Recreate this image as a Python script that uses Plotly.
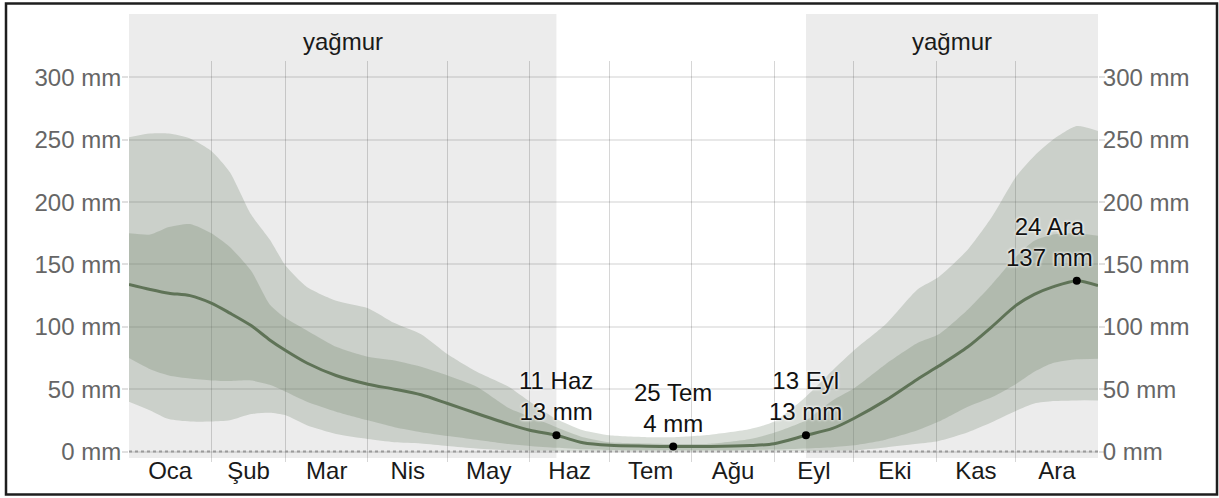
import plotly.graph_objects as go

# ---------------- data ----------------
month_names = ["Oca", "Şub", "Mar", "Nis", "May", "Haz", "Tem", "Ağu", "Eyl", "Eki", "Kas", "Ara"]
month_starts = [0, 31, 59, 90, 120, 151, 181, 212, 243, 273, 304, 334, 365]

days = [0, 8, 15, 23, 31, 38, 46, 53, 59, 67, 78, 90, 100, 110, 120, 131, 143, 151, 161,
        171, 181, 195, 205, 219, 234, 243, 255, 265, 273, 285, 297, 305, 316, 325, 334,
        341, 348, 357, 365]
mean_mm = [134, 130, 127, 125, 119, 111, 101, 89.5, 81, 71, 61, 54, 50, 45.5, 38.5, 30.5, 22, 17, 13,
           7, 5, 4.3, 4, 4, 4.8, 6.3, 13, 18.5, 26.5, 41, 58, 68.5, 84, 100, 117,
           126, 132, 137, 133]
p25_mm = [75, 66, 61, 58.5, 57, 56.5, 57, 53.5, 48, 40, 32, 25, 19.5, 15.5, 12.5, 9.5, 6, 4.5, 3,
          1.8, 1.2, 1.0, 1.0, 1.0, 1.3, 1.6, 2.5, 3.5, 5, 9.5, 17, 24, 36, 43.5, 54,
          64, 71, 74, 74.5]
p75_mm = [175, 174, 180, 182.5, 175, 164, 145, 118, 107, 97, 84, 76, 73, 68, 61, 52, 35, 28, 19.5,
          11.5, 7.5, 6.5, 6, 6.2, 10, 15, 25, 41, 50.5, 70, 87, 94, 114, 134, 156,
          169, 174, 175, 173]
p10_mm = [40, 33, 26, 24, 24, 25, 30, 31, 29, 21, 14, 10, 7.5, 6.5, 4.5, 2.5, 1, 0.6, 0.3,
          0.2, 0.1, 0.1, 0.1, 0.1, 0.2, 0.3, 0.4, 0.6, 0.9, 3.3, 6.2, 8.5, 15.5, 23.5, 32.5,
          38.5, 40.5, 41, 41]
p90_mm = [252, 255, 255, 251, 241, 224, 190, 170, 149, 132, 121, 115, 103, 94, 78, 64, 52, 40, 26,
          17, 13, 11.5, 11.5, 13.5, 18, 24, 44, 65, 81, 102, 130, 140, 162, 188, 220,
          237, 250, 261, 257]

rain_seasons = [(0, 161), (255, 365)]
rain_label = "yağmur"

hl_days = [161, 205, 255, 357]
hl_mm = [13, 4, 13, 137]
hl_labels = ["11 Haz<br>13 mm", "25 Tem<br>4 mm", "13 Eyl<br>13 mm", "24 Ara<br>137 mm"]
hl_xshift = [0, 0, 0, -27]

y_ticks = [0, 50, 100, 150, 200, 250, 300]
y_text = [f"{v} mm" for v in y_ticks]

# ---------------- figure ----------------
FONT = "Liberation Sans, Arial, Helvetica, sans-serif"
band = "rgba(110,128,105,0.26)"
band_in = "rgba(110,128,105,0.28)"
line_col = "#5f7357"

fig = go.Figure()

fig.add_trace(go.Scatter(x=days, y=p10_mm, mode="lines", line=dict(width=0, shape="spline", smoothing=0.6),
                         hoverinfo="skip", showlegend=False))
fig.add_trace(go.Scatter(x=days, y=p90_mm, mode="lines", line=dict(width=0, shape="spline", smoothing=0.6),
                         fill="tonexty", fillcolor=band, hoverinfo="skip", showlegend=False))
fig.add_trace(go.Scatter(x=days, y=p25_mm, mode="lines", line=dict(width=0, shape="spline", smoothing=0.6),
                         hoverinfo="skip", showlegend=False))
fig.add_trace(go.Scatter(x=days, y=p75_mm, mode="lines", line=dict(width=0, shape="spline", smoothing=0.6),
                         fill="tonexty", fillcolor=band_in, hoverinfo="skip", showlegend=False))
fig.add_trace(go.Scatter(x=days, y=mean_mm, mode="lines", line=dict(width=3, color=line_col, shape="spline", smoothing=0.8),
                         showlegend=False))
fig.add_trace(go.Scatter(x=[month_starts[0], month_starts[-1]], y=[0, 0], mode="lines", yaxis="y2",
                         line=dict(width=2, color="#9a9a9a", dash="dot"), hoverinfo="skip", showlegend=False))
fig.add_trace(go.Scatter(x=hl_days, y=hl_mm, mode="markers", marker=dict(size=8, color="black"),
                         showlegend=False))

W, H = 1219, 498
L, R, T, B = 129, 1098, 61, 462
pw, ph = R - L, B - T


def px_x(p):
    return (p - L) / pw


def px_y(p):
    return (B - p) / ph


shapes = []
for (a, b) in rain_seasons:
    shapes.append(dict(type="rect", xref="x", yref="paper", x0=a, x1=b, y0=px_y(458), y1=px_y(14),
                       fillcolor="#ececec", line=dict(width=0), layer="below"))
# outer frame
shapes.append(dict(type="rect", xref="paper", yref="paper", x0=px_x(6), x1=px_x(1217), y0=px_y(494.5), y1=px_y(3.5),
                   line=dict(color="#1e1e1e", width=2.5), fillcolor="rgba(0,0,0,0)", layer="above"))

annotations = []
for (a, b) in rain_seasons:
    annotations.append(dict(x=(a + b) / 2, y=px_y(42), xref="x", yref="paper", text=rain_label, showarrow=False,
                            font=dict(size=24, color="#1a1a1a", family=FONT), yanchor="middle"))
for d, v, t, xs in zip(hl_days, hl_mm, hl_labels, hl_xshift):
    annotations.append(dict(x=d, y=v, xref="x", yref="y", text=t, showarrow=False, yanchor="bottom",
                            yshift=8, xshift=xs,
                            font=dict(size=24, color="#111111", family=FONT,
                                      shadow="0px 0px 3px white, 0px 0px 3px white")))

mid_months = [(month_starts[i] + month_starts[i + 1]) / 2 for i in range(12)]
y_range = [-8.4, 313.2]

fig.update_layout(
    width=W, height=H, autosize=False,
    margin=dict(l=L, r=W - R, t=T, b=H - B, pad=0, autoexpand=False),
    paper_bgcolor="white", plot_bgcolor="rgba(0,0,0,0)",
    font=dict(family=FONT, size=24, color="#666666"),
    shapes=shapes, annotations=annotations,
    xaxis=dict(range=[month_starts[0], month_starts[-1]], tickmode="array", tickvals=mid_months, ticktext=month_names,
               showgrid=False, zeroline=False, showline=False, ticks="", automargin=False,
               ticklabelstandoff=-8,
               tickfont=dict(size=24, color="#1a1a1a", family=FONT),
               minor=dict(tickmode="array", tickvals=month_starts[1:-1], showgrid=True,
                          gridcolor="rgba(0,0,0,0.16)", gridwidth=1, ticks=""),
               fixedrange=True),
    yaxis=dict(range=y_range, tickmode="array", tickvals=y_ticks, ticktext=y_text, showgrid=True,
               gridcolor="rgba(0,0,0,0.09)", gridwidth=1.5, zeroline=False, showline=False,
               ticks="outside", ticklen=6, tickcolor="rgba(0,0,0,0.12)", tickwidth=1.5, automargin=False,
               ticklabelstandoff=-4,
               tickfont=dict(size=24, color="#666666", family=FONT), fixedrange=True),
    yaxis2=dict(range=y_range, overlaying="y", side="right", tickmode="array", tickvals=y_ticks, ticktext=y_text,
                showgrid=False, zeroline=False, showline=False, automargin=False,
                ticks="outside", ticklen=6, tickcolor="rgba(0,0,0,0.12)", tickwidth=1.5,
                ticklabelstandoff=-7,
                tickfont=dict(size=24, color="#666666", family=FONT), fixedrange=True),
    showlegend=False,
)

fig.write_html("out.html", config={"displayModeBar": False},
               post_script="document.body.style.margin='0';document.body.style.overflow='hidden';")
